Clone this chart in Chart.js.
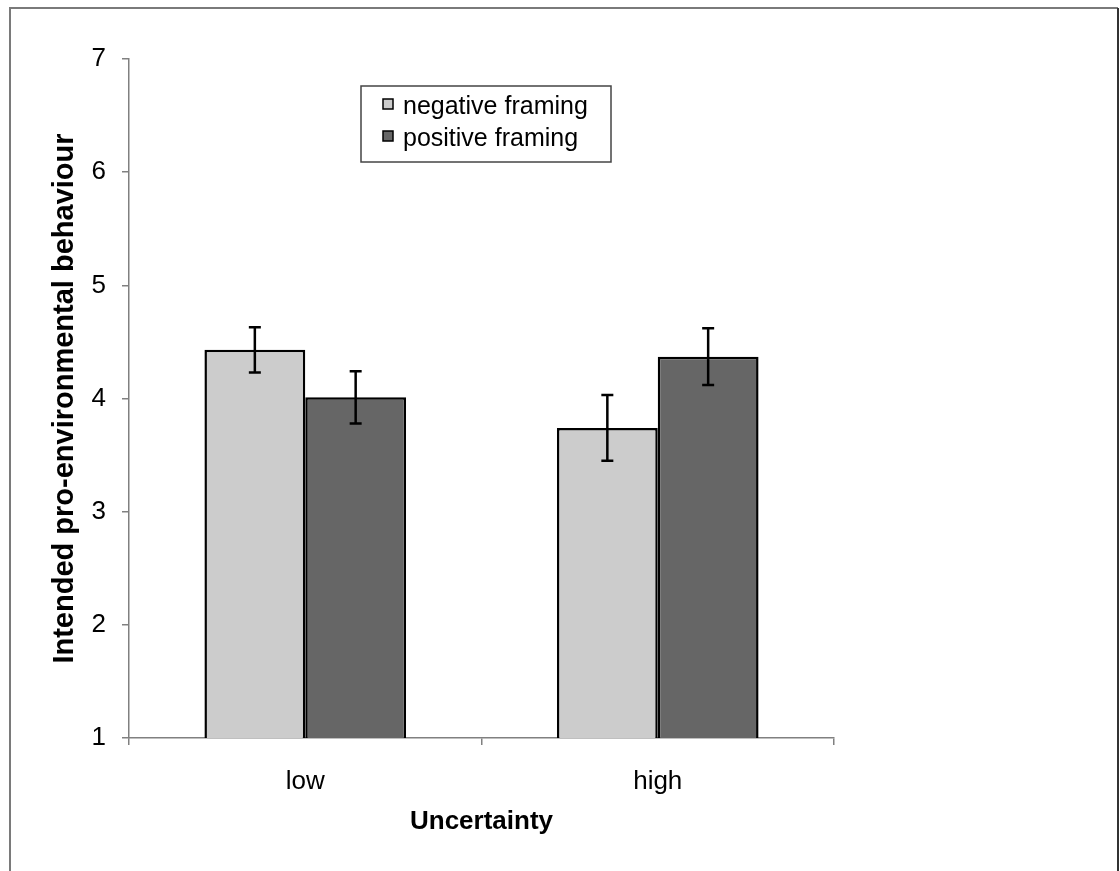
<!DOCTYPE html>
<html lang="en">
<head>
    <meta charset="UTF-8">
    <title>Intended pro-environmental behaviour</title>
    <script src="https://cdn.jsdelivr.net/npm/chart.js"></script>
    <style>
        body { margin: 0; background: #fff; }
        #wrap { position: relative; width: 1120px; height: 871px; }
    </style>
</head>
<body>
    <div id="wrap">
        <canvas id="chart" width="1120" height="871"></canvas>
    </div>

    <script>
        // data
        const categories = ['low', 'high'];
        const seriesNames = ['negative framing', 'positive framing'];
        const negativeMeans = [4.43, 3.74];
        const positiveMeans = [4.01, 4.37];
        const negativeErrors = [0.20, 0.29];
        const positiveErrors = [0.23, 0.25];
        const yTicks = [1, 2, 3, 4, 5, 6, 7];

        const FONT = "'Liberation Sans', Arial, sans-serif";
        const errors = [negativeErrors, positiveErrors];

        // outer frame of the figure
        const framePlugin = {
            id: 'frame',
            beforeDraw(chart) {
                const ctx = chart.ctx;
                ctx.save();
                ctx.lineWidth = 2;
                ctx.strokeStyle = '#7a7a7a';
                ctx.beginPath();
                ctx.moveTo(10, 871);
                ctx.lineTo(10, 8);
                ctx.lineTo(1118, 8);
                ctx.stroke();
                ctx.strokeStyle = '#333';
                ctx.beginPath();
                ctx.moveTo(1118, 8);
                ctx.lineTo(1118, 871);
                ctx.stroke();
                ctx.restore();
            }
        };

        // error bars on top of each bar
        const errorBarPlugin = {
            id: 'errorBars',
            afterDatasetsDraw(chart) {
                const ctx = chart.ctx;
                const yScale = chart.scales.y;
                ctx.save();
                ctx.strokeStyle = '#000';
                ctx.lineWidth = 2.5;
                chart.data.datasets.forEach((ds, i) => {
                    chart.getDatasetMeta(i).data.forEach((bar, j) => {
                        const v = ds.data[j];
                        const e = errors[i][j];
                        const top = yScale.getPixelForValue(v + e);
                        const bottom = yScale.getPixelForValue(v - e);
                        ctx.beginPath();
                        ctx.moveTo(bar.x, top);
                        ctx.lineTo(bar.x, bottom);
                        ctx.moveTo(bar.x - 6, top);
                        ctx.lineTo(bar.x + 6, top);
                        ctx.moveTo(bar.x - 6, bottom);
                        ctx.lineTo(bar.x + 6, bottom);
                        ctx.stroke();
                    });
                });
                ctx.restore();
            }
        };

        // boxed legend inside the plot area
        const boxLegendPlugin = {
            id: 'boxLegend',
            afterDraw(chart) {
                const ctx = chart.ctx;
                ctx.save();
                ctx.strokeStyle = '#444';
                ctx.lineWidth = 1.5;
                ctx.strokeRect(361, 86, 250, 76);
                ctx.font = '25px ' + FONT;
                ctx.textBaseline = 'alphabetic';
                ctx.textAlign = 'left';
                const baselines = [114, 146];
                chart.data.datasets.forEach((ds, i) => {
                    const sy = baselines[i] - 15;
                    ctx.fillStyle = ds.backgroundColor;
                    ctx.fillRect(383, sy, 10, 10);
                    ctx.strokeStyle = '#000';
                    ctx.lineWidth = 1.5;
                    ctx.strokeRect(383, sy, 10, 10);
                    ctx.fillStyle = '#000';
                    ctx.fillText(ds.label, 403, baselines[i]);
                });
                ctx.restore();
            }
        };

        new Chart(document.getElementById('chart'), {
            type: 'bar',
            data: {
                labels: categories,
                datasets: [
                    {
                        label: seriesNames[0],
                        data: negativeMeans,
                        backgroundColor: '#cccccc',
                        borderColor: '#000',
                        borderWidth: 2.5,
                        borderSkipped: false
                    },
                    {
                        label: seriesNames[1],
                        data: positiveMeans,
                        backgroundColor: '#666666',
                        borderColor: '#000',
                        borderWidth: 2.5,
                        borderSkipped: false
                    }
                ]
            },
            options: {
                responsive: false,
                animation: false,
                categoryPercentage: 0.572,
                barPercentage: 1.0,
                layout: { padding: { top: 59, right: 286, left: 0, bottom: 0 } },
                scales: {
                    x: {
                        afterFit(scale) { scale.height = 133; },
                        grid: {
                            offset: true,
                            drawOnChartArea: false,
                            tickLength: 7,
                            color: '#808080',
                            lineWidth: 1.5
                        },
                        border: { color: '#808080', width: 1.5 },
                        ticks: {
                            color: '#000',
                            padding: 21,
                            font: { family: FONT, size: 26 }
                        },
                        title: {
                            display: true,
                            text: 'Uncertainty',
                            color: '#000',
                            font: { family: FONT, size: 26, weight: 'bold' },
                            padding: { top: 0, bottom: 34 }
                        }
                    },
                    y: {
                        min: yTicks[0],
                        max: yTicks[yTicks.length - 1],
                        afterFit(scale) { scale.width = 129; },
                        afterBuildTicks(scale) {
                            scale.ticks = yTicks.map(v => ({ value: v }));
                        },
                        grid: {
                            drawOnChartArea: false,
                            tickLength: 7,
                            color: '#808080',
                            lineWidth: 1.5
                        },
                        border: { color: '#808080', width: 1.5 },
                        ticks: {
                            color: '#000',
                            padding: 16,
                            font: { family: FONT, size: 26 }
                        },
                        title: {
                            display: true,
                            text: 'Intended pro-environmental behaviour',
                            color: '#000',
                            font: { family: FONT, size: 29, weight: 'bold' },
                            padding: { top: 48, bottom: 0 }
                        }
                    }
                },
                plugins: {
                    legend: { display: false },
                    tooltip: { enabled: false }
                }
            },
            plugins: [framePlugin, errorBarPlugin, boxLegendPlugin]
        });
    </script>
</body>
</html>
